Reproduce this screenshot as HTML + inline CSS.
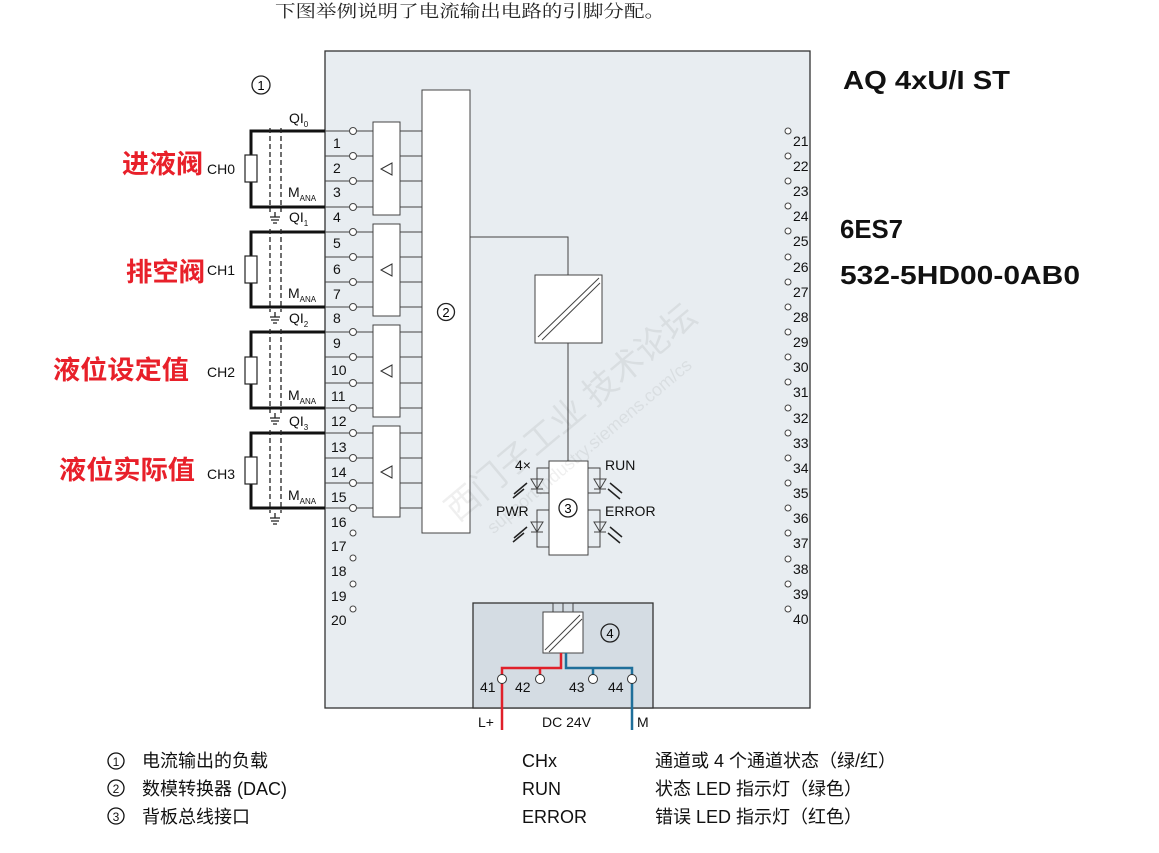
<!DOCTYPE html>
<html><head><meta charset="utf-8"><style>
html,body{margin:0;padding:0;background:#fff;}
body{width:1159px;height:853px;overflow:hidden;position:relative;}
svg{position:absolute;left:0;top:0;}
text{font-family:"Liberation Sans","Noto Sans CJK SC",sans-serif;}
</style></head><body>
<svg width="1159" height="853" viewBox="0 0 1159 853" xmlns="http://www.w3.org/2000/svg">
<text x="275" y="17" font-size="17" textLength="390" lengthAdjust="spacingAndGlyphs" fill="#222" style="font-family:'Liberation Serif','Noto Serif CJK SC',serif">下图举例说明了电流输出电路的引脚分配。</text>

<rect x="325" y="51" width="485" height="657" fill="#e8edf1" stroke="#333" stroke-width="1.3"/>
<rect x="422" y="90" width="48" height="443" fill="#fff" stroke="#444" stroke-width="1"/>
<circle cx="446" cy="312" r="8.5" fill="none" stroke="#222" stroke-width="1.3"/><text x="446" y="317" font-size="13" text-anchor="middle">2</text>

<g stroke="#444" stroke-width="1" fill="none">
<path d="M325 131H349M357 131H422M325 156H349M357 156H422M325 181H349M357 181H422M325 207H349M357 207H422"/>
<path d="M325 232H349M357 232H422M325 257H349M357 257H422M325 282H349M357 282H422M325 307H349M357 307H422"/>
<path d="M325 332H349M357 332H422M325 357H349M357 357H422M325 383H349M357 383H422M325 408H349M357 408H422"/>
<path d="M325 433H349M357 433H422M325 458H349M357 458H422M325 483H349M357 483H422M325 508H349M357 508H422"/>
</g>
<g fill="#fff" stroke="#444" stroke-width="1">
<circle cx="353" cy="131" r="3.5"/><circle cx="353" cy="156" r="3.5"/><circle cx="353" cy="181" r="3.5"/><circle cx="353" cy="207" r="3.5"/>
<circle cx="353" cy="232" r="3.5"/><circle cx="353" cy="257" r="3.5"/><circle cx="353" cy="282" r="3.5"/><circle cx="353" cy="307" r="3.5"/>
<circle cx="353" cy="332" r="3.5"/><circle cx="353" cy="357" r="3.5"/><circle cx="353" cy="383" r="3.5"/><circle cx="353" cy="408" r="3.5"/>
<circle cx="353" cy="433" r="3.5"/><circle cx="353" cy="458" r="3.5"/><circle cx="353" cy="483" r="3.5"/><circle cx="353" cy="508" r="3.5"/>
<circle cx="353" cy="533" r="3"/><circle cx="353" cy="558" r="3"/><circle cx="353" cy="584" r="3"/><circle cx="353" cy="609" r="3"/>
<rect x="373" y="122" width="27" height="93"/><rect x="373" y="224" width="27" height="92"/>
<rect x="373" y="325" width="27" height="92"/><rect x="373" y="426" width="27" height="91"/>
</g>
<g fill="none" stroke="#333" stroke-width="1">
<path d="M392 163L381 169L392 175Z"/><path d="M392 264L381 270L392 276Z"/><path d="M392 365L381 371L392 377Z"/><path d="M392 466L381 472L392 478Z"/>
</g>
<g font-size="14" fill="#111">
<text x="333" y="148">1</text><text x="333" y="173">2</text><text x="333" y="197">3</text><text x="333" y="222">4</text>
<text x="333" y="248">5</text><text x="333" y="274">6</text><text x="333" y="299">7</text><text x="333" y="323">8</text>
<text x="333" y="348">9</text><text x="331" y="375">10</text><text x="331" y="401">11</text><text x="331" y="426">12</text>
<text x="331" y="452">13</text><text x="331" y="477">14</text><text x="331" y="502">15</text><text x="331" y="527">16</text>
<text x="331" y="551">17</text><text x="331" y="576">18</text><text x="331" y="601">19</text><text x="331" y="625">20</text>
</g>
<g fill="#fff" stroke="#444" stroke-width="1">
<circle cx="788" cy="131" r="3"/><circle cx="788" cy="156" r="3"/><circle cx="788" cy="181" r="3"/><circle cx="788" cy="206" r="3"/><circle cx="788" cy="231" r="3"/>
<circle cx="788" cy="257" r="3"/><circle cx="788" cy="282" r="3"/><circle cx="788" cy="307" r="3"/><circle cx="788" cy="332" r="3"/><circle cx="788" cy="357" r="3"/>
<circle cx="788" cy="382" r="3"/><circle cx="788" cy="408" r="3"/><circle cx="788" cy="433" r="3"/><circle cx="788" cy="458" r="3"/><circle cx="788" cy="483" r="3"/>
<circle cx="788" cy="508" r="3"/><circle cx="788" cy="533" r="3"/><circle cx="788" cy="559" r="3"/><circle cx="788" cy="584" r="3"/><circle cx="788" cy="609" r="3"/>
</g>
<g font-size="14" fill="#111">
<text x="793" y="146">21</text><text x="793" y="171">22</text><text x="793" y="196">23</text><text x="793" y="221">24</text><text x="793" y="246">25</text>
<text x="793" y="272">26</text><text x="793" y="297">27</text><text x="793" y="322">28</text><text x="793" y="347">29</text><text x="793" y="372">30</text>
<text x="793" y="397">31</text><text x="793" y="423">32</text><text x="793" y="448">33</text><text x="793" y="473">34</text><text x="793" y="498">35</text>
<text x="793" y="523">36</text><text x="793" y="548">37</text><text x="793" y="574">38</text><text x="793" y="599">39</text><text x="793" y="624">40</text>
</g>

<path d="M470 237H568V275M568 343V461" stroke="#444" fill="none"/>
<rect x="535" y="275" width="67" height="68" fill="#fff" stroke="#444"/>
<path d="M538 337L599 278M542 340L600 283" stroke="#444" fill="none"/>

<rect x="549" y="461" width="39" height="94" fill="#fff" stroke="#444"/>
<circle cx="568" cy="508" r="9" fill="none" stroke="#222" stroke-width="1.3"/><text x="568" y="513" font-size="13" text-anchor="middle">3</text>
<g stroke="#444" fill="none" stroke-width="1">
<path d="M549 468H537V493H549M549 510H537V547H549M588 468H600V493H588M588 510H600V547H588"/>
<path d="M531 479H543L537 489Z M531 489H543"/><path d="M531 522H543L537 532Z M531 532H543"/>
<path d="M594 479H606L600 489Z M594 489H606"/><path d="M594 522H606L600 532Z M594 532H606"/>
</g>
<g stroke="#222" stroke-width="1.5" fill="#222">
<path d="M527 483L514 494M524 489L513 498"/><path d="M527 527L514 538M524 533L513 542"/>
<path d="M610 483L622 493M608 489L620 499"/><path d="M610 527L622 537M608 533L620 543"/>
</g>
<g font-size="14" fill="#111">
<text x="515" y="470">4×</text><text x="605" y="470">RUN</text><text x="496" y="516">PWR</text><text x="605" y="516">ERROR</text>
</g>

<rect x="473" y="603" width="180" height="105" fill="#d4dce3" stroke="#333" stroke-width="1.3"/>
<path d="M553 603V612M563 603V612M573 603V612M553 603H573" stroke="#444" fill="none"/>
<rect x="543" y="612" width="40" height="41" fill="#fff" stroke="#444"/>
<path d="M545 650L580 615M549 652L582 619" stroke="#444" fill="none"/>
<circle cx="610" cy="633" r="9" fill="none" stroke="#222" stroke-width="1.3"/><text x="610" y="638" font-size="13" text-anchor="middle">4</text>
<path d="M561 653V668H502V730M540 668V676" stroke="#e0202a" stroke-width="2.5" fill="none"/>
<path d="M566 653V668H632V730M593 668V676" stroke="#1f6f9a" stroke-width="2.5" fill="none"/>
<g fill="#fff" stroke="#333"><circle cx="502" cy="679" r="4.5"/><circle cx="540" cy="679" r="4.5"/><circle cx="593" cy="679" r="4.5"/><circle cx="632" cy="679" r="4.5"/></g>
<g font-size="14" fill="#111">
<text x="480" y="692">41</text><text x="515" y="692">42</text><text x="569" y="692">43</text><text x="608" y="692">44</text>
<text x="478" y="727">L+</text><text x="542" y="727">DC 24V</text><text x="637" y="727">M</text>
</g>

<circle cx="261" cy="85" r="9" fill="none" stroke="#222" stroke-width="1.3"/><text x="261" y="90" font-size="13" text-anchor="middle">1</text>
<g stroke="#111" stroke-width="3" fill="none">
<path d="M325 131H251V207H325M325 232H251V307H325M325 332H251V408H325M325 433H251V508H325"/>
</g>
<g fill="#fff" stroke="#222" stroke-width="1.2">
<rect x="245" y="155" width="12" height="27"/><rect x="245" y="256" width="12" height="27"/>
<rect x="245" y="357" width="12" height="27"/><rect x="245" y="457" width="12" height="27"/>
</g>
<g stroke="#222" stroke-width="1.3" stroke-dasharray="5,3" fill="none">
<path d="M270 128V212M281 128V212M270 229V312M281 229V312M270 329V413M281 329V413M270 430V513M281 430V513"/>
</g>
<g stroke="#222" stroke-width="1.3" fill="none">
<path d="M275 212V217M270 217H280M271 220H279M273 223H277"/>
<path d="M275 312V317M270 317H280M271 320H279M273 323H277"/>
<path d="M275 413V418M270 418H280M271 421H279M273 424H277"/>
<path d="M275 513V518M270 518H280M271 521H279M273 524H277"/>
</g>
<g font-size="14" fill="#111">
<text x="289" y="123">QI<tspan font-size="8" dy="4">0</tspan></text>
<text x="289" y="222">QI<tspan font-size="8" dy="4">1</tspan></text>
<text x="289" y="323">QI<tspan font-size="8" dy="4">2</tspan></text>
<text x="289" y="426">QI<tspan font-size="8" dy="4">3</tspan></text>
<text x="288" y="197">M<tspan font-size="8" dy="4">ANA</tspan></text>
<text x="288" y="298">M<tspan font-size="8" dy="4">ANA</tspan></text>
<text x="288" y="400">M<tspan font-size="8" dy="4">ANA</tspan></text>
<text x="288" y="500">M<tspan font-size="8" dy="4">ANA</tspan></text>
<text x="207" y="174">CH0</text><text x="207" y="275">CH1</text><text x="207" y="377">CH2</text><text x="207" y="479">CH3</text>
</g>
<g font-size="26" font-weight="bold" fill="#e8202a">
<text x="122" y="173" textLength="81" lengthAdjust="spacingAndGlyphs">进液阀</text>
<text x="126" y="281" textLength="79" lengthAdjust="spacingAndGlyphs">排空阀</text>
<text x="53" y="379" textLength="136" lengthAdjust="spacingAndGlyphs">液位设定值</text>
<text x="59" y="479" textLength="136" lengthAdjust="spacingAndGlyphs">液位实际值</text>
</g>
<g font-size="26" font-weight="bold" fill="#111">
<text x="843" y="89" textLength="167" lengthAdjust="spacingAndGlyphs">AQ 4xU/I ST</text>
<text x="840" y="238" textLength="63" lengthAdjust="spacingAndGlyphs">6ES7</text>
<text x="840" y="284" textLength="240" lengthAdjust="spacingAndGlyphs">532-5HD00-0AB0</text>
</g>

<g transform="rotate(-40 580 420)" fill="#000" opacity="0.06">
<text x="420" y="420" font-size="34">西门子工业  技术论坛</text>
<text x="440" y="452" font-size="18">support.industry.siemens.com/cs</text>
</g>

<g font-size="18" fill="#111">
<circle cx="116" cy="761" r="8" fill="none" stroke="#111" stroke-width="1.3"/><text x="116" y="766" font-size="12" text-anchor="middle">1</text>
<circle cx="116" cy="788" r="8" fill="none" stroke="#111" stroke-width="1.3"/><text x="116" y="793" font-size="12" text-anchor="middle">2</text>
<circle cx="116" cy="816" r="8" fill="none" stroke="#111" stroke-width="1.3"/><text x="116" y="821" font-size="12" text-anchor="middle">3</text>
<text x="142" y="767">电流输出的负载</text>
<text x="142" y="795">数模转换器 (DAC)</text>
<text x="142" y="823">背板总线接口</text>
<text x="522" y="767">CHx</text><text x="522" y="795">RUN</text><text x="522" y="823">ERROR</text>
<text x="655" y="767">通道或 4 个通道状态（绿/红）</text>
<text x="655" y="795">状态 LED 指示灯（绿色）</text>
<text x="655" y="823">错误 LED 指示灯（红色）</text>
</g>
</svg>
</body></html>
